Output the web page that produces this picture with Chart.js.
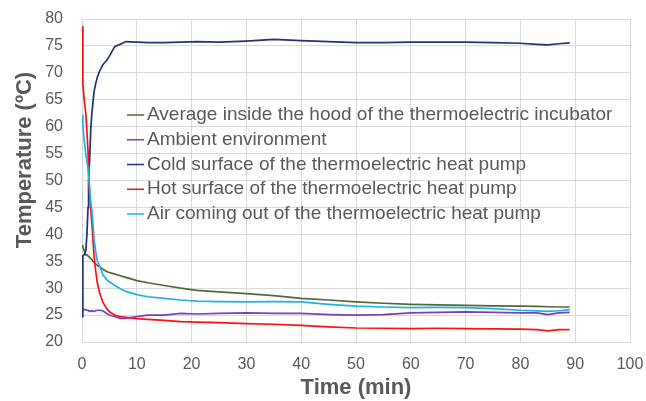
<!DOCTYPE html>
<html>
<head>
<meta charset="utf-8">
<script src="https://cdn.jsdelivr.net/npm/chart.js@4.4.1/dist/chart.umd.min.js"></script>
<style>
  html, body { margin: 0; padding: 0; background: #fff; }
</style>
</head>
<body>
<canvas id="tempChart" width="646" height="401"></canvas>
<script>
// time in minutes, shared by all series
const timeMin = [0, 0.15, 0.4, 0.7, 0.9, 1.1, 1.2, 1.4, 1.6, 1.8, 2.0, 2.2, 2.5, 2.8, 3.2, 3.8, 4.5, 5, 6, 7, 8,
  10, 12, 15, 18, 21, 25, 30, 35, 40, 45, 50, 55, 60, 65, 70, 75, 80, 83, 85, 87, 89];

const avgHood = [38.0, 37.6, 37.0, 36.2, 36.2, 36.0, 35.9, 35.7, 35.5, 35.3, 35.0, 34.8, 34.5, 34.2, 34.0, 33.5, 33.1, 32.9, 32.6, 32.3, 32.0,
  31.4, 31.0, 30.5, 30.0, 29.6, 29.3, 29.0, 28.6, 28.1, 27.8, 27.45, 27.2, 27.0, 26.9, 26.8, 26.7, 26.65, 26.6, 26.55, 26.5, 26.5];
const ambient = [26.2, 26.1, 26.0, 26.0, 25.9, 25.9, 25.8, 25.8, 25.7, 25.8, 25.7, 25.7, 25.8, 25.9, 25.9, 25.8, 25.3, 25.0, 24.7, 24.4, 24.4,
  24.7, 25.0, 25.0, 25.3, 25.2, 25.3, 25.4, 25.3, 25.3, 25.1, 25.0, 25.1, 25.4, 25.5, 25.6, 25.5, 25.4, 25.4, 25.1, 25.4, 25.5];
const coldSurface = [24.7, 36.0, 36.2, 37.0, 40.0, 45.0, 50.0, 54.0, 59.5, 62.5, 64.5, 66.5, 68.0, 69.2, 70.3, 71.5, 72.3, 73.1, 74.9, 75.3, 75.8,
  75.7, 75.6, 75.6, 75.7, 75.8, 75.7, 75.9, 76.2, 76.0, 75.8, 75.6, 75.6, 75.7, 75.7, 75.7, 75.6, 75.5, 75.3, 75.2, 75.4, 75.55];
const hotSurface = [78.7, 68.0, 65.0, 62.4, 59.0, 55.5, 51.5, 47.5, 44.5, 42.0, 39.0, 36.0, 33.2, 31.0, 29.2, 27.4, 26.2, 25.6, 25.0, 24.7, 24.6,
  24.35, 24.2, 24.0, 23.8, 23.7, 23.6, 23.4, 23.3, 23.1, 22.8, 22.6, 22.55, 22.5, 22.55, 22.5, 22.45, 22.4, 22.3, 22.05, 22.3, 22.3];
const airOut = [62.2, 60.5, 57.5, 54.8, 53.5, 52.5, 51.0, 48.5, 46.0, 44.5, 42.0, 39.0, 36.8, 35.0, 34.2, 32.5, 31.6, 31.2, 30.5, 29.9, 29.4,
  28.8, 28.4, 28.1, 27.8, 27.6, 27.5, 27.45, 27.5, 27.45, 27.0, 26.65, 26.5, 26.4, 26.45, 26.4, 26.2, 25.9, 25.8, 25.7, 25.8, 26.0];

const seriesNames = [
  'Average inside the hood of the thermoelectric incubator',
  'Ambient environment',
  'Cold surface of the thermoelectric heat pump',
  'Hot surface of the thermoelectric heat pump',
  'Air coming out of the thermoelectric heat pump'
];
const seriesColors = ['#4f6b35', '#7a3fb5', '#1f3470', '#ff1010', '#1fb2ea'];
const seriesValues = [avgHood, ambient, coldSurface, hotSurface, airOut];

const textGray = '#595959';
const gridGray = '#d9d9d9';
const fontName = '"Liberation Sans", Arial, sans-serif';

function toPoints(values) {
  return values.map((v, i) => ({ x: timeMin[i], y: v }));
}

// legend sits inside the plot, like the Excel one
const insideLegend = {
  id: 'insideLegend',
  afterDraw(chart) {
    const ctx = chart.ctx;
    ctx.save();
    ctx.font = '19px ' + fontName;
    ctx.textBaseline = 'middle';
    ctx.textAlign = 'left';
    chart.data.datasets.forEach((ds, i) => {
      const y = 115 + i * 24.75;
      ctx.strokeStyle = ds.borderColor;
      ctx.lineWidth = 1.5;
      ctx.beginPath();
      ctx.moveTo(127, y);
      ctx.lineTo(144, y);
      ctx.stroke();
      ctx.fillStyle = textGray;
      ctx.fillText(ds.label, 147, y);
    });
    ctx.restore();
  }
};

const yTitle = {
  id: 'yTitle',
  afterDraw(chart) {
    const ctx = chart.ctx;
    ctx.save();
    ctx.translate(25, 160);
    ctx.rotate(-Math.PI / 2);
    ctx.font = 'bold 22px ' + fontName;
    ctx.fillStyle = textGray;
    ctx.textAlign = 'center';
    ctx.textBaseline = 'middle';
    ctx.fillText('Temperature (ºC)', 0, 0);
    ctx.restore();
  }
};

// tick marks are invisible, their length just spaces the labels off the plot
const tempChart = new Chart(document.getElementById('tempChart').getContext('2d'), {
  type: 'line',
  data: {
    datasets: seriesValues.map((vals, i) => ({
      label: seriesNames[i],
      data: toPoints(vals),
      borderColor: seriesColors[i],
      borderWidth: 1.7,
      pointRadius: 0,
      tension: 0,
      fill: false,
      order: seriesValues.length - i
    }))
  },
  options: {
    responsive: false,
    animation: false,
    layout: { padding: { top: 19, right: 16, left: 0, bottom: 0 } },
    plugins: {
      legend: { display: false },
      tooltip: { enabled: false }
    },
    scales: {
      x: {
        type: 'linear',
        min: 0,
        max: 100,
        ticks: { stepSize: 10, padding: 0, color: textGray, font: { family: fontName, size: 16 } },
        grid: { color: gridGray, tickLength: 13, tickColor: 'rgba(0,0,0,0)' },
        border: { color: gridGray },
        title: {
          display: true,
          text: 'Time (min)',
          color: textGray,
          font: { family: fontName, size: 22, weight: 'bold' },
          padding: { top: 0, bottom: 0 }
        },
        afterFit(scale) { scale.height = 59; }
      },
      y: {
        min: 20,
        max: 80,
        ticks: { stepSize: 5, padding: 0, color: textGray, font: { family: fontName, size: 16 } },
        grid: { color: gridGray, tickLength: 19, tickColor: 'rgba(0,0,0,0)' },
        border: { color: gridGray },
        afterFit(scale) { scale.width = 82; }
      }
    }
  },
  plugins: [insideLegend, yTitle]
});
</script>
</body>
</html>
